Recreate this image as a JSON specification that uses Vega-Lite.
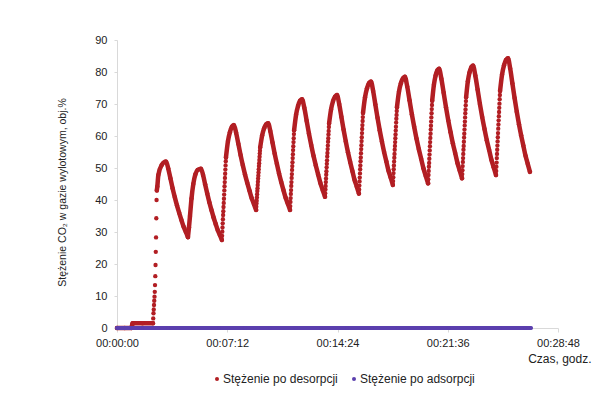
{
"$schema": "https://vega.github.io/schema/vega-lite/v6.json",
"width": 441, "height": 288,
"autosize": {"type": "none"},
"padding": {"left": 117, "top": 40, "right": 58, "bottom": 75},
"background": "white",
"config": {"view": {"stroke": null}, "font": "Liberation Sans"},
"datasets": {
"red": [
{"t":0,"v":0,"g":1},{"t":30,"v":0,"g":1},{"t":57,"v":0,"g":1},{"t":59,"v":0.8,"g":1},{"t":61,"v":1.5,"g":1},{"t":100,"v":1.5,"g":1},{"t":141,"v":1.5,"g":1},
{"t":142,"v":3.0},{"t":143,"v":4.6},{"t":144,"v":5.8},{"t":145,"v":7.2},{"t":146,"v":8.5},{"t":147,"v":9.8},{"t":148,"v":11.3},{"t":149,"v":13.4},{"t":150,"v":16.2},{"t":151,"v":19.7},{"t":152,"v":23.8},{"t":153,"v":28.3},{"t":154,"v":34.3},{"t":155,"v":40.0},
{"t":156,"v":43.0,"g":2},{"t":158,"v":44.2,"g":2},{"t":162,"v":47.8,"g":2},{"t":175,"v":50.9,"g":2},{"t":192,"v":52.0,"g":2},{"t":200.6,"v":49.9,"g":2},{"t":209.2,"v":46.8,"g":2},{"t":217.8,"v":43.7,"g":2},{"t":226.4,"v":40.9,"g":2},{"t":235,"v":38.3,"g":2},{"t":243.6,"v":36.0,"g":2},{"t":252.2,"v":33.8,"g":2},{"t":260.8,"v":31.7,"g":2},{"t":269.4,"v":30.1,"g":2},{"t":278,"v":28.4,"g":2},
{"t":278,"v":28.4,"g":3},{"t":282,"v":31.5,"g":3},{"t":286,"v":35.0,"g":3},{"t":292,"v":40.5,"g":3},{"t":299,"v":45.0,"g":3},{"t":307,"v":48.0,"g":3},{"t":316,"v":49.4,"g":3},{"t":329,"v":49.8,"g":3},{"t":337.2,"v":47.8,"g":3},{"t":345.4,"v":44.9,"g":3},{"t":353.6,"v":42.0,"g":3},{"t":361.8,"v":39.3,"g":3},{"t":370,"v":36.9,"g":3},{"t":378.2,"v":34.6,"g":3},{"t":386.4,"v":32.6,"g":3},{"t":394.6,"v":30.6,"g":3},{"t":402.8,"v":29.1,"g":3},{"t":411,"v":27.5,"g":3},
{"t":411.8,"v":28.8},{"t":412.6,"v":30.1},{"t":413.4,"v":31.4},{"t":414.2,"v":32.7},{"t":415,"v":34.0},{"t":415.8,"v":35.3},{"t":416.6,"v":36.5},{"t":417.4,"v":37.8},{"t":418.2,"v":39.1},{"t":419,"v":40.4},{"t":419.8,"v":41.7},{"t":420.6,"v":43.0},{"t":421.4,"v":44.3},{"t":422.2,"v":45.6},{"t":423,"v":46.9},{"t":423.8,"v":48.2},{"t":424.6,"v":49.5},{"t":425.4,"v":50.8},{"t":426.2,"v":52.1},
{"t":427,"v":53.3,"g":4},{"t":434.8,"v":58.4,"g":4},{"t":442.5,"v":61.2,"g":4},{"t":450.3,"v":62.9,"g":4},{"t":458,"v":63.4,"g":4},{"t":466.7,"v":61.0,"g":4},{"t":475.4,"v":57.6,"g":4},{"t":484.1,"v":54.1,"g":4},{"t":492.8,"v":50.9,"g":4},{"t":501.5,"v":48.0,"g":4},{"t":510.2,"v":45.4,"g":4},{"t":518.9,"v":43.0,"g":4},{"t":527.6,"v":40.6,"g":4},{"t":536.3,"v":38.8,"g":4},{"t":545,"v":36.9,"g":4},
{"t":545.8,"v":37.9},{"t":546.6,"v":38.9},{"t":547.4,"v":39.8},{"t":548.2,"v":40.8},{"t":549,"v":41.8},{"t":549.8,"v":42.8},{"t":550.6,"v":43.7},{"t":551.4,"v":44.7},{"t":552.2,"v":45.7},{"t":553,"v":46.7},{"t":553.8,"v":47.6},{"t":554.6,"v":48.6},{"t":555.4,"v":49.6},{"t":556.2,"v":50.6},{"t":557,"v":51.5},{"t":557.8,"v":52.5},{"t":558.6,"v":53.5},{"t":559.4,"v":54.5},{"t":560.2,"v":55.4},
{"t":561,"v":56.4,"g":5},{"t":568.8,"v":60.2,"g":5},{"t":576.5,"v":62.4,"g":5},{"t":584.3,"v":63.6,"g":5},{"t":592,"v":64.0,"g":5},{"t":600.6,"v":61.6,"g":5},{"t":609.2,"v":58.0,"g":5},{"t":617.8,"v":54.5,"g":5},{"t":626.4,"v":51.3,"g":5},{"t":635,"v":48.3,"g":5},{"t":643.6,"v":45.6,"g":5},{"t":652.2,"v":43.1,"g":5},{"t":660.8,"v":40.7,"g":5},{"t":669.4,"v":38.8,"g":5},{"t":678,"v":36.9,"g":5},
{"t":678.8,"v":38.1},{"t":679.6,"v":39.4},{"t":680.4,"v":40.6},{"t":681.2,"v":41.9},{"t":682,"v":43.1},{"t":682.8,"v":44.4},{"t":683.6,"v":45.6},{"t":684.4,"v":46.9},{"t":685.2,"v":48.1},{"t":686,"v":49.4},{"t":686.8,"v":50.6},{"t":687.6,"v":51.8},{"t":688.4,"v":53.1},{"t":689.2,"v":54.3},{"t":690,"v":55.6},{"t":690.8,"v":56.8},{"t":691.6,"v":58.1},{"t":692.4,"v":59.3},{"t":693.2,"v":60.6},
{"t":694,"v":61.8,"g":6},{"t":701.8,"v":66.7,"g":6},{"t":709.5,"v":69.4,"g":6},{"t":717.3,"v":71.0,"g":6},{"t":725,"v":71.5,"g":6},{"t":734,"v":68.8,"g":6},{"t":743,"v":64.8,"g":6},{"t":752,"v":60.8,"g":6},{"t":761,"v":57.2,"g":6},{"t":770,"v":53.8,"g":6},{"t":779,"v":50.8,"g":6},{"t":788,"v":48.0,"g":6},{"t":797,"v":45.3,"g":6},{"t":806,"v":43.1,"g":6},{"t":815,"v":41.0,"g":6},
{"t":815.8,"v":42.1},{"t":816.6,"v":43.3},{"t":817.4,"v":44.4},{"t":818.2,"v":45.6},{"t":819,"v":46.7},{"t":819.8,"v":47.9},{"t":820.6,"v":49.0},{"t":821.4,"v":50.2},{"t":822.2,"v":51.3},{"t":823,"v":52.4},{"t":823.8,"v":53.6},{"t":824.6,"v":54.7},{"t":825.4,"v":55.9},{"t":826.2,"v":57.0},{"t":827,"v":58.2},{"t":827.8,"v":59.3},{"t":828.6,"v":60.5},{"t":829.4,"v":61.6},{"t":830.2,"v":62.8},
{"t":831,"v":63.9,"g":7},{"t":838.8,"v":68.3,"g":7},{"t":846.5,"v":70.9,"g":7},{"t":854.3,"v":72.3,"g":7},{"t":862,"v":72.8,"g":7},{"t":870.6,"v":70.0,"g":7},{"t":879.2,"v":66.0,"g":7},{"t":887.8,"v":62.0,"g":7},{"t":896.4,"v":58.3,"g":7},{"t":905,"v":54.9,"g":7},{"t":913.6,"v":51.9,"g":7},{"t":922.2,"v":49.1,"g":7},{"t":930.8,"v":46.3,"g":7},{"t":939.4,"v":44.2,"g":7},{"t":948,"v":42.0,"g":7},
{"t":948.8,"v":43.3},{"t":949.6,"v":44.5},{"t":950.4,"v":45.8},{"t":951.2,"v":47.0},{"t":952,"v":48.3},{"t":952.8,"v":49.6},{"t":953.6,"v":50.8},{"t":954.4,"v":52.1},{"t":955.2,"v":53.3},{"t":956,"v":54.6},{"t":956.8,"v":55.9},{"t":957.6,"v":57.1},{"t":958.4,"v":58.4},{"t":959.2,"v":59.6},{"t":960,"v":60.9},{"t":960.8,"v":62.2},{"t":961.6,"v":63.4},{"t":962.4,"v":64.7},{"t":963.2,"v":65.9},
{"t":964,"v":67.2,"g":8},{"t":971.8,"v":72.1,"g":8},{"t":979.5,"v":74.9,"g":8},{"t":987.3,"v":76.5,"g":8},{"t":995,"v":77.0,"g":8},{"t":1003.6,"v":74.1,"g":8},{"t":1012.2,"v":69.9,"g":8},{"t":1020.8,"v":65.7,"g":8},{"t":1029.4,"v":61.8,"g":8},{"t":1038,"v":58.3,"g":8},{"t":1046.6,"v":55.0,"g":8},{"t":1055.2,"v":52.1,"g":8},{"t":1063.8,"v":49.2,"g":8},{"t":1072.4,"v":47.0,"g":8},{"t":1081,"v":44.7,"g":8},
{"t":1081.8,"v":45.9},{"t":1082.6,"v":47.1},{"t":1083.4,"v":48.4},{"t":1084.2,"v":49.6},{"t":1085,"v":50.8},{"t":1085.8,"v":52.0},{"t":1086.6,"v":53.2},{"t":1087.4,"v":54.4},{"t":1088.2,"v":55.7},{"t":1089,"v":56.9},{"t":1089.8,"v":58.1},{"t":1090.6,"v":59.3},{"t":1091.4,"v":60.5},{"t":1092.2,"v":61.7},{"t":1093,"v":62.9},{"t":1093.8,"v":64.2},{"t":1094.6,"v":65.4},{"t":1095.4,"v":66.6},{"t":1096.2,"v":67.8},
{"t":1097,"v":69.0,"g":9},{"t":1104.8,"v":73.8,"g":9},{"t":1112.5,"v":76.5,"g":9},{"t":1120.3,"v":78.0,"g":9},{"t":1128,"v":78.5,"g":9},{"t":1137.1,"v":75.5,"g":9},{"t":1146.2,"v":71.2,"g":9},{"t":1155.3,"v":66.8,"g":9},{"t":1164.4,"v":62.9,"g":9},{"t":1173.5,"v":59.2,"g":9},{"t":1182.6,"v":55.9,"g":9},{"t":1191.7,"v":52.9,"g":9},{"t":1200.8,"v":49.9,"g":9},{"t":1209.9,"v":47.5,"g":9},{"t":1219,"v":45.2,"g":9},
{"t":1219.8,"v":46.5},{"t":1220.6,"v":47.8},{"t":1221.4,"v":49.1},{"t":1222.2,"v":50.4},{"t":1223,"v":51.6},{"t":1223.8,"v":52.9},{"t":1224.6,"v":54.2},{"t":1225.4,"v":55.5},{"t":1226.2,"v":56.8},{"t":1227,"v":58.1},{"t":1227.8,"v":59.4},{"t":1228.6,"v":60.7},{"t":1229.4,"v":62.0},{"t":1230.2,"v":63.2},{"t":1231,"v":64.5},{"t":1231.8,"v":65.8},{"t":1232.6,"v":67.1},{"t":1233.4,"v":68.4},{"t":1234.2,"v":69.7},
{"t":1235,"v":71.0,"g":10},{"t":1241.8,"v":76.0,"g":10},{"t":1248.5,"v":78.9,"g":10},{"t":1255.3,"v":80.5,"g":10},{"t":1262,"v":81.0,"g":10},{"t":1271,"v":77.9,"g":10},{"t":1280,"v":73.5,"g":10},{"t":1289,"v":69.0,"g":10},{"t":1298,"v":64.9,"g":10},{"t":1307,"v":61.2,"g":10},{"t":1316,"v":57.7,"g":10},{"t":1325,"v":54.7,"g":10},{"t":1334,"v":51.6,"g":10},{"t":1343,"v":49.2,"g":10},{"t":1352,"v":46.8,"g":10},
{"t":1352.8,"v":48.1},{"t":1353.6,"v":49.3},{"t":1354.4,"v":50.6},{"t":1355.2,"v":51.9},{"t":1356,"v":53.1},{"t":1356.8,"v":54.4},{"t":1357.6,"v":55.7},{"t":1358.4,"v":56.9},{"t":1359.2,"v":58.2},{"t":1360,"v":59.5},{"t":1360.8,"v":60.7},{"t":1361.6,"v":62.0},{"t":1362.4,"v":63.3},{"t":1363.2,"v":64.5},{"t":1364,"v":65.8},{"t":1364.8,"v":67.1},{"t":1365.6,"v":68.3},{"t":1366.4,"v":69.6},{"t":1367.2,"v":70.9},
{"t":1368,"v":72.1,"g":11},{"t":1374.8,"v":77.1,"g":11},{"t":1381.5,"v":79.9,"g":11},{"t":1388.3,"v":81.5,"g":11},{"t":1395,"v":82.0,"g":11},{"t":1404,"v":78.9,"g":11},{"t":1413,"v":74.5,"g":11},{"t":1422,"v":70.0,"g":11},{"t":1431,"v":65.9,"g":11},{"t":1440,"v":62.2,"g":11},{"t":1449,"v":58.7,"g":11},{"t":1458,"v":55.7,"g":11},{"t":1467,"v":52.6,"g":11},{"t":1476,"v":50.2,"g":11},{"t":1485,"v":47.8,"g":11},
{"t":1485.8,"v":49.1},{"t":1486.6,"v":50.4},{"t":1487.4,"v":51.7},{"t":1488.2,"v":53.1},{"t":1489,"v":54.4},{"t":1489.8,"v":55.7},{"t":1490.6,"v":57.0},{"t":1491.4,"v":58.3},{"t":1492.2,"v":59.6},{"t":1493,"v":60.9},{"t":1493.8,"v":62.3},{"t":1494.6,"v":63.6},{"t":1495.4,"v":64.9},{"t":1496.2,"v":66.2},{"t":1497,"v":67.5},{"t":1497.8,"v":68.8},{"t":1498.6,"v":70.1},{"t":1499.4,"v":71.5},{"t":1500.2,"v":72.8},
{"t":1501,"v":74.1,"g":12},{"t":1508.8,"v":79.2,"g":12},{"t":1516.5,"v":82.1,"g":12},{"t":1524.3,"v":83.8,"g":12},{"t":1532,"v":84.3,"g":12},{"t":1540.6,"v":81.1,"g":12},{"t":1549.2,"v":76.5,"g":12},{"t":1557.8,"v":71.9,"g":12},{"t":1566.4,"v":67.6,"g":12},{"t":1575,"v":63.7,"g":12},{"t":1583.6,"v":60.2,"g":12},{"t":1592.2,"v":57.0,"g":12},{"t":1600.8,"v":53.8,"g":12},{"t":1609.4,"v":51.3,"g":12},{"t":1618,"v":48.8,"g":12}
],
"blue": [
{"t":0,"v":0},{"t":100,"v":0},{"t":200,"v":0},{"t":300,"v":0},{"t":400,"v":0},{"t":500,"v":0},{"t":600,"v":0},{"t":700,"v":0},{"t":800,"v":0},{"t":900,"v":0},{"t":1000,"v":0},{"t":1100,"v":0},{"t":1200,"v":0},{"t":1300,"v":0},{"t":1400,"v":0},{"t":1500,"v":0},{"t":1600,"v":0},{"t":1622,"v":0}
]
},
"encoding": {
"x": {"field": "t", "type": "quantitative", "scale": {"domain": [0, 1728], "nice": false},
 "axis": {"values": [0, 432, 864, 1296, 1728], "labelExpr": "utcFormat(datum.value*1000, '%H:%M:%S')",
 "title": "Czas, godz.", "titleFontSize": 12, "titleFontWeight": "normal", "titleColor": "#222", "titleX": 474, "titleY": 30, "titleAlign": "right", "titleBaseline": "middle",
 "grid": false, "domainColor": "#d9d9d9", "tickColor": "#d9d9d9", "tickSize": 4, "labelFontSize": 11, "labelColor": "#222", "labelPadding": 5, "labelOverlap": false, "labelFlush": false}},
"y": {"field": "v", "type": "quantitative", "scale": {"domain": [0, 90], "nice": false},
 "axis": {"values": [0, 10, 20, 30, 40, 50, 60, 70, 80, 90],
 "title": "Stężenie CO₂ w gazie wylotowym, obj.%", "titleFontSize": 10.5, "titleFontWeight": "normal", "titleColor": "#222", "titleX": -55, "titleY": 152, "titleAlign": "center", "titleBaseline": "middle", "titleAngle": 270,
 "grid": false, "domainColor": "#d9d9d9", "tickColor": "#d9d9d9", "tickSize": 3, "labelFontSize": 11, "labelColor": "#222", "labelPadding": 7}}
},
"layer": [
{"data": {"name": "red"}, "transform": [{"filter": "datum.g > 0"}],
 "mark": {"type": "line", "stroke": "#b21e23", "strokeWidth": 4.5, "strokeCap": "round", "strokeJoin": "round", "interpolate": "monotone"},
 "encoding": {"detail": {"field": "g", "type": "nominal"}}},
{"data": {"name": "red"},
 "mark": {"type": "point", "filled": true, "size": 19, "opacity": 1},
 "encoding": {"color": {"datum": "Stężenie po desorpcji",
  "scale": {"domain": ["Stężenie po desorpcji", "Stężenie po adsorpcji"], "range": ["#b21e23", "#5b3fae"]},
  "legend": {"orient": "none", "legendX": 94, "legendY": 333, "direction": "horizontal", "title": null, "symbolType": "circle", "symbolSize": 16, "labelFontSize": 12, "labelColor": "#222", "labelOffset": 0, "columnPadding": 10}}}},
{"data": {"name": "blue"},
 "mark": {"type": "line", "stroke": "#5b3fae", "strokeWidth": 4, "strokeCap": "round"},
 "encoding": {}},
{"data": {"name": "blue"},
 "mark": {"type": "point", "filled": true, "size": 13, "opacity": 1},
 "encoding": {"color": {"datum": "Stężenie po adsorpcji"}}}
]
}
